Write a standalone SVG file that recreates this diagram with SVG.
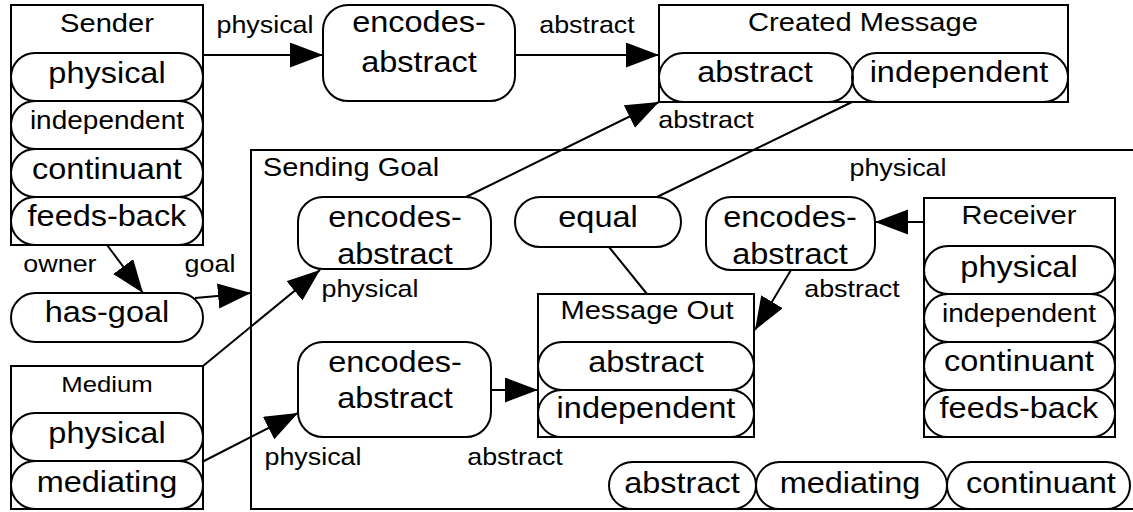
<svg xmlns="http://www.w3.org/2000/svg" width="1133" height="512" viewBox="0 0 1133 512">
<style>
  text { font-family: "Liberation Sans", Arial, Helvetica, sans-serif; fill: #000; text-anchor: middle;
         transform-box: fill-box; transform-origin: center; transform: scaleX(1.12); }
  .m { font-size: 29px; }
  .s { font-size: 25px; }
  .ti { font-size: 26px; }
  .md { font-size: 23px; }
  .l { font-size: 24px; }
  .box { fill: none; stroke: #000; stroke-width: 2; }
  .pill { fill: none; stroke: #000; stroke-width: 2; }
  .node { fill: #fff; stroke: #000; stroke-width: 2; }
  .c { fill: none; stroke: #000; stroke-width: 2; }
  .a { marker-end: url(#ah); }
</style>
<defs>
  <marker id="ah" markerUnits="userSpaceOnUse" markerWidth="34" markerHeight="26" refX="33" refY="12.5" orient="auto">
    <path d="M0,0 L33,12.5 L0,25 z" fill="#000"/>
  </marker>
</defs>
<rect width="1133" height="512" fill="#fff"/>

<g id="sending-goal">
  <rect class="box" x="251" y="150" width="885" height="359"/>
  <text class="ti" x="351" y="176">Sending Goal</text>
  <rect class="pill" x="609" y="462" width="147" height="47" rx="23.5"/>
  <text class="m" x="682" y="493">abstract</text>
  <rect class="pill" x="756" y="462" width="191" height="47" rx="23.5"/>
  <text class="m" x="850" y="493">mediating</text>
  <rect class="pill" x="947" y="462" width="183" height="47" rx="23.5"/>
  <text class="m" x="1041" y="493">continuant</text>
</g>

<g id="connectors">
  <line class="c a" x1="203" y1="55" x2="323" y2="55"/>
  <line class="c a" x1="515" y1="55" x2="659" y2="55"/>
  <line class="c a" x1="107" y1="245" x2="143" y2="293"/>
  <line class="c a" x1="195" y1="298" x2="251" y2="293"/>
  <line class="c a" x1="203" y1="366" x2="320" y2="270"/>
  <line class="c a" x1="202" y1="462" x2="298" y2="413"/>
  <line class="c a" x1="466" y1="197" x2="659" y2="102"/>
  <line class="c" x1="852" y1="102" x2="657" y2="197"/>
  <line class="c" x1="609" y1="247" x2="647" y2="294"/>
  <line class="c a" x1="491" y1="390" x2="538" y2="390"/>
  <line class="c a" x1="924" y1="222" x2="875" y2="222"/>
  <line class="c a" x1="791" y1="270" x2="755" y2="330"/>
  <text class="l" x="265" y="33">physical</text>
  <text class="l" x="587" y="33">abstract</text>
  <text class="l" x="706" y="128">abstract</text>
  <text class="l" x="898" y="176">physical</text>
  <text class="l" x="60" y="272">owner</text>
  <text class="l" x="210" y="272">goal</text>
  <text class="l" x="370" y="297">physical</text>
  <text class="l" x="852" y="297">abstract</text>
  <text class="l" x="313" y="465">physical</text>
  <text class="l" x="515" y="465">abstract</text>
</g>

<g id="sender">
  <rect class="box" x="11" y="5" width="192" height="240"/>
  <text class="ti" x="107" y="32">Sender</text>
  <rect class="pill" x="11" y="53" width="192" height="48" rx="24"/>
  <text class="m" x="107" y="83">physical</text>
  <rect class="pill" x="11" y="101" width="192" height="48" rx="24"/>
  <text class="s" x="107" y="129">independent</text>
  <rect class="pill" x="11" y="149" width="192" height="48" rx="24"/>
  <text class="m" x="107" y="179">continuant</text>
  <rect class="pill" x="11" y="197" width="192" height="48" rx="24"/>
  <text class="m" x="107" y="226">feeds-back</text>
</g>

<g id="encodes-top">
  <rect class="node" x="323" y="5" width="192" height="96" rx="25"/>
  <text class="m" x="419" y="32">encodes-</text>
  <text class="m" x="419" y="72">abstract</text>
</g>

<g id="created-message">
  <rect class="box" x="659" y="5" width="409" height="97"/>
  <text class="ti" x="863" y="31">Created Message</text>
  <rect class="pill" x="659" y="53" width="194" height="49" rx="24.5"/>
  <text class="m" x="755" y="82">abstract</text>
  <rect class="pill" x="852" y="53" width="216" height="49" rx="24.5"/>
  <text class="m" x="959" y="82">independent</text>
</g>

<g id="has-goal">
  <rect class="node" x="11" y="293" width="192" height="49" rx="24.5"/>
  <text class="m" x="107" y="322">has-goal</text>
</g>

<g id="medium">
  <rect class="box" x="11" y="366" width="192" height="143"/>
  <text class="md" x="107" y="392">Medium</text>
  <rect class="pill" x="11" y="413" width="192" height="48" rx="24"/>
  <text class="m" x="107" y="443">physical</text>
  <rect class="pill" x="11" y="461" width="192" height="48" rx="24"/>
  <text class="m" x="107" y="492">mediating</text>
</g>

<g id="encodes-upper">
  <rect class="node" x="298" y="197" width="193" height="72" rx="25"/>
  <text class="m" x="395" y="227">encodes-</text>
  <text class="m" x="395" y="264">abstract</text>
</g>

<g id="equal">
  <rect class="node" x="515" y="197" width="166" height="50" rx="25"/>
  <text class="m" x="598" y="227">equal</text>
</g>

<g id="encodes-right">
  <rect class="node" x="706" y="197" width="169" height="73" rx="25"/>
  <text class="m" x="790" y="227">encodes-</text>
  <text class="m" x="790" y="264">abstract</text>
</g>

<g id="encodes-lower">
  <rect class="node" x="298" y="342" width="193" height="95" rx="25"/>
  <text class="m" x="395" y="372">encodes-</text>
  <text class="m" x="395" y="408">abstract</text>
</g>

<g id="message-out">
  <rect class="box" x="538" y="294" width="216" height="143"/>
  <text class="ti" x="647" y="319">Message Out</text>
  <rect class="pill" x="538" y="342" width="216" height="48" rx="24"/>
  <text class="m" x="646" y="372">abstract</text>
  <rect class="pill" x="538" y="390" width="216" height="47" rx="23.5"/>
  <text class="m" x="646" y="418">independent</text>
</g>

<g id="receiver">
  <rect class="box" x="924" y="198" width="191" height="239"/>
  <text class="ti" x="1019" y="224">Receiver</text>
  <rect class="pill" x="924" y="246" width="191" height="48" rx="24"/>
  <text class="m" x="1019" y="277">physical</text>
  <rect class="pill" x="924" y="294" width="191" height="48" rx="24"/>
  <text class="s" x="1019" y="322">independent</text>
  <rect class="pill" x="924" y="342" width="191" height="48" rx="24"/>
  <text class="m" x="1019" y="371">continuant</text>
  <rect class="pill" x="924" y="390" width="191" height="47" rx="23.5"/>
  <text class="m" x="1019" y="418">feeds-back</text>
</g>
</svg>
